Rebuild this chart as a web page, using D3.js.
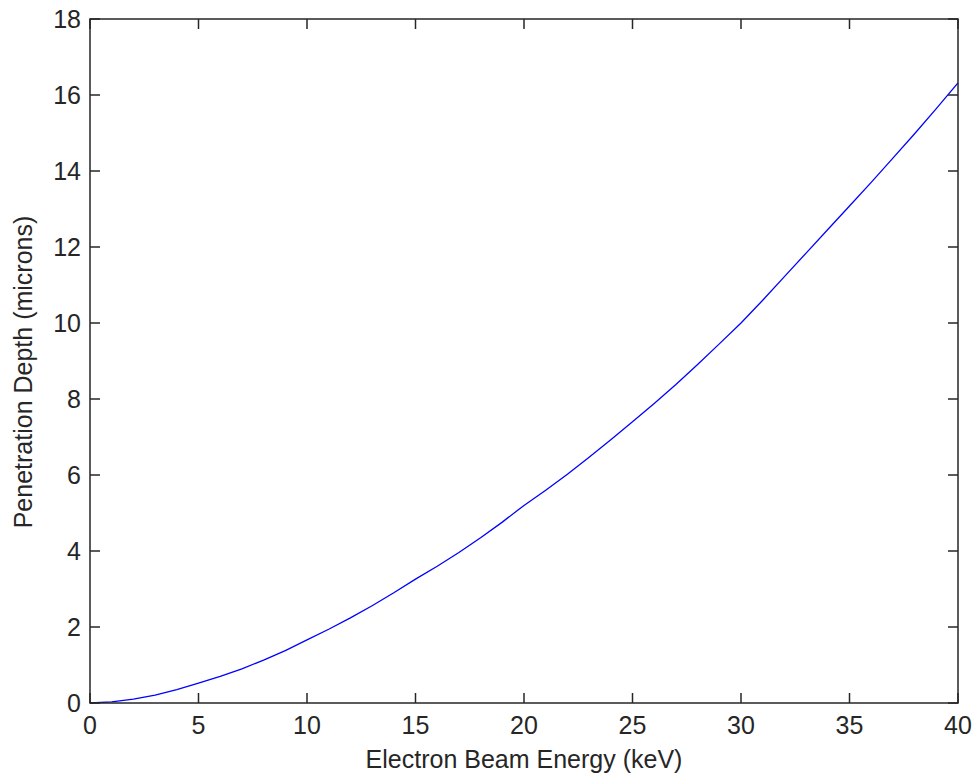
<!DOCTYPE html>
<html><head><meta charset="utf-8">
<script src="https://cdn.jsdelivr.net/npm/d3@7/dist/d3.min.js"></script>
<style>
html,body{margin:0;padding:0;background:#fff;}
svg{display:block;}
text{font-family:"Liberation Sans",Arial,sans-serif;fill:#262626;}
</style></head>
<body>
<script>
const energy = [0,1,2,3,4,5,6,7,8,9,10,11,12,13,14,15,16,17,18,19,20,21,22,23,24,25,26,27,28,29,30,31,32,33,34,35,36,37,38,39,40];
const depth  = [0,0.03,0.10,0.21,0.35,0.52,0.70,0.90,1.13,1.38,1.66,1.94,2.24,2.56,2.90,3.26,3.60,3.96,4.35,4.76,5.20,5.60,6.02,6.47,6.93,7.40,7.88,8.38,8.91,9.45,10.00,10.60,11.22,11.84,12.46,13.08,13.70,14.34,14.98,15.64,16.32];
const xTicks = [0,5,10,15,20,25,30,35,40];
const yTicks = [0,2,4,6,8,10,12,14,16,18];
const xLabel = "Electron Beam Energy (keV)";
const yLabel = "Penetration Depth (microns)";

const W = 976, H = 776;
const m = {left:90, right:18, top:19, bottom:73};
const svg = d3.select("body").append("svg").attr("width",W).attr("height",H);
const x = d3.scaleLinear().domain([0,40]).range([m.left, W-m.right]);
const y = d3.scaleLinear().domain([0,18]).range([H-m.bottom, m.top]);
const axisColor = "#262626";
const fs = 25;

// line
const line = d3.line().x((d,i)=>x(energy[i])).y(d=>y(d));
svg.append("path").datum(depth).attr("d",line)
  .attr("fill","none").attr("stroke","#0000ff").attr("stroke-width",1.3);

// box
svg.append("rect").attr("x",x(0)).attr("y",y(18))
  .attr("width",x(40)-x(0)).attr("height",y(0)-y(18))
  .attr("fill","none").attr("stroke",axisColor).attr("stroke-width",1.5);

const tl = 10;
const g = svg.append("g").attr("stroke",axisColor).attr("stroke-width",1.5);
xTicks.forEach(t=>{
  g.append("line").attr("x1",x(t)).attr("x2",x(t)).attr("y1",y(0)).attr("y2",y(0)-tl);
  g.append("line").attr("x1",x(t)).attr("x2",x(t)).attr("y1",y(18)).attr("y2",y(18)+tl);
});
yTicks.forEach(t=>{
  g.append("line").attr("x1",x(0)).attr("x2",x(0)+tl).attr("y1",y(t)).attr("y2",y(t));
  g.append("line").attr("x1",x(40)).attr("x2",x(40)-tl).attr("y1",y(t)).attr("y2",y(t));
});

// tick labels
svg.selectAll(".xt").data(xTicks).enter().append("text")
  .attr("x",d=>x(d)).attr("y",y(0)+31).attr("text-anchor","middle")
  .attr("font-size",fs).text(d=>d);
svg.selectAll(".yt").data(yTicks).enter().append("text")
  .attr("x",x(0)-9).attr("y",d=>y(d)+9).attr("text-anchor","end")
  .attr("font-size",fs).text(d=>d);

// axis labels
svg.append("text").attr("x",(x(0)+x(40))/2).attr("y",768).attr("text-anchor","middle")
  .attr("font-size",fs).text(xLabel);
svg.append("text").attr("transform","translate(32,372) rotate(-90)").attr("text-anchor","middle")
  .attr("font-size",fs).text(yLabel);
</script>
</body></html>
